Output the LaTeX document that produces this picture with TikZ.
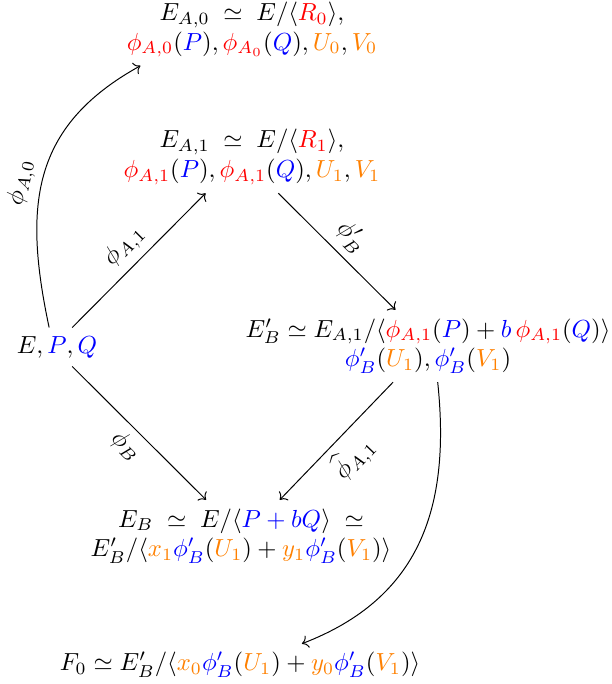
\documentclass[tikz,border=0pt]{standalone}
\usetikzlibrary{arrows.meta}
\newcommand{\rd}[1]{\textcolor{red}{#1}}
\newcommand{\bl}[1]{\textcolor{blue}{#1}}
\newcommand{\og}[1]{\textcolor{orange}{#1}}
\tikzset{
  obj/.style={align=center, inner sep=3.3pt},
  arr/.style={-{Computer Modern Rightarrow}, line width=0.4pt},
  lab/.style={sloped, inner sep=3pt}
}
\begin{document}
\begin{tikzpicture}[x=0.405pt, y=-0.405pt]
\useasboundingbox (0,0) rectangle (611,684);
\node[obj] (A0) at (252,29.5) {$E_{A,0}\;\simeq\;E/\langle\rd{R_0}\rangle,$\\$\rd{\phi_{A,0}}(\bl{P}),\rd{\phi_{A_0}}(\bl{Q}),\og{U_0},\og{V_0}$};
\node[obj] (A1) at (252,157) {$E_{A,1}\;\simeq\;E/\langle\rd{R_1}\rangle,$\\$\rd{\phi_{A,1}}(\bl{P}),\rd{\phi_{A,1}}(\bl{Q}),\og{U_1},\og{V_1}$};
\node[obj] (E) at (57,347) {$E,\bl{P},\bl{Q}$};
\node[obj] (EBp) at (428,346) {$E'_B\simeq E_{A,1}/\langle\rd{\phi_{A,1}}(\bl{P})+\bl{b}\,\rd{\phi_{A,1}}(\bl{Q})\rangle$\\$\bl{\phi'_B}(\og{U_1}),\bl{\phi'_B}(\og{V_1})$};
\node[obj] (EB) at (241,536) {$E_B\;\simeq\;E/\langle\bl{P+bQ}\rangle\;\simeq$\\$E'_B/\langle\og{x_1}\bl{\phi'_B}(\og{U_1})+\og{y_1}\bl{\phi'_B}(\og{V_1})\rangle$};
\node[obj] (F0) at (240,665) {$F_0\simeq E'_B/\langle\og{x_0}\bl{\phi'_B}(\og{U_1})+\og{y_0}\bl{\phi'_B}(\og{V_1})\rangle$};
\draw[arr] (E.112) to[out=102, in=209, looseness=1.15] node[lab, above, pos=0.45] {$\phi_{A,0}$} (A0.198);
\draw[arr] (E.52) -- node[lab, above] {$\phi_{A,1}$} (A1.218);
\draw[arr] (A1.-54) -- node[lab, above] {$\phi'_B$} (EBp.132);
\draw[arr] (E.-52) -- node[lab, below] {$\phi_B$} (EB.134);
\draw[arr] (EBp.226) -- node[lab, below] {$\widehat{\phi}_{A,1}$} (EB.43);
\draw[arr] (EBp.-75) to[out=-84, in=21, looseness=1.1] (F0.19);
\end{tikzpicture}
\end{document}
